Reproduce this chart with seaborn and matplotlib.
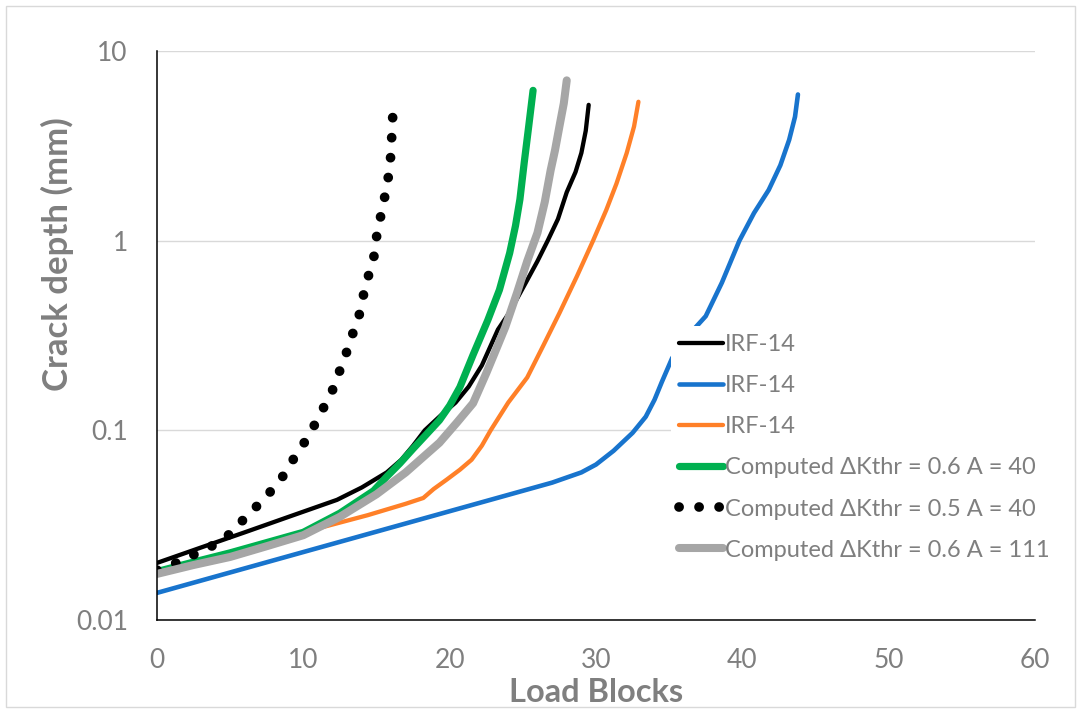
import matplotlib
matplotlib.use("Agg")
import matplotlib.pyplot as plt
from matplotlib.patches import Rectangle
from matplotlib.ticker import MultipleLocator, LogLocator, FuncFormatter, NullFormatter
import numpy as np
import pandas as pd
import seaborn as sns

# ---- measured crack growth curves (load blocks vs crack depth, mm) ----
irf_black_x = [0, 3, 6, 9, 12.3, 14, 15.7, 16.7, 17.5, 18.3, 19.4, 20.4, 21.3, 22.2,
               23.3, 24.1, 25.2, 26.0, 26.7, 27.4, 28.0, 28.6, 29.0, 29.3, 29.5]
irf_black_y = [0.020, 0.0241, 0.029, 0.035, 0.043, 0.050, 0.060, 0.070, 0.083, 0.100,
               0.120, 0.140, 0.170, 0.220, 0.340, 0.420, 0.600, 0.780, 1.00, 1.30,
               1.80, 2.30, 2.90, 3.80, 5.20]

irf_blue_x = [0, 27, 29, 30.0, 31.2, 32.5, 33.4, 34.0, 34.5, 35.2, 36.2, 37.5, 38.6,
              39.8, 40.8, 41.8, 42.6, 43.2, 43.6, 43.8]
irf_blue_y = [0.0139, 0.053, 0.060, 0.066, 0.078, 0.097, 0.118, 0.145, 0.180, 0.240,
              0.310, 0.400, 0.600, 1.00, 1.40, 1.85, 2.50, 3.40, 4.50, 5.90]

irf_orange_x = [0, 5, 10, 14.4, 17, 18.2, 18.9, 19.8, 20.7, 21.5, 22.2, 22.8, 24.0,
                25.3, 26.4, 27.5, 28.7, 29.8, 30.7, 31.4, 32.1, 32.6, 32.9]
irf_orange_y = [0.0180, 0.0228, 0.0290, 0.0357, 0.041, 0.044, 0.049, 0.055, 0.062,
                0.070, 0.083, 0.100, 0.140, 0.190, 0.280, 0.415, 0.650, 1.00, 1.45,
                2.00, 2.90, 4.00, 5.40]

# ---- computed curves ----
comp_a40_x = [0, 2.5, 5, 7.5, 10, 12.5, 14.8, 15.7, 16.6, 17.5, 18.4, 19.3, 20.0,
              20.7, 21.6, 22.6, 23.4, 24.1, 24.5, 24.8, 25.1, 25.4, 25.7]
comp_a40_y = [0.018, 0.0202, 0.0226, 0.0256, 0.029, 0.0366, 0.048, 0.057, 0.067,
              0.080, 0.095, 0.113, 0.135, 0.169, 0.250, 0.380, 0.550, 0.860, 1.20,
              1.65, 2.60, 4.00, 6.20]

comp_k05_x = [0, 1.11, 2.19, 3.0, 4.03, 4.8, 5.56, 6.17, 6.92, 7.61, 8.13, 8.87,
              9.36, 9.96, 10.5, 10.98, 11.48, 11.96, 12.32, 12.8, 13.08, 13.51,
              13.9, 14.15, 14.49, 14.85, 15.02, 15.29, 15.56, 15.8, 15.96, 16.04, 16.11]
comp_k05_y = [0.0183, 0.0197, 0.0214, 0.0232, 0.0251, 0.0277, 0.0313, 0.0361,
              0.0404, 0.046, 0.052, 0.0605, 0.0714, 0.0836, 0.0976, 0.115, 0.136,
              0.160, 0.194, 0.230, 0.284, 0.343, 0.425, 0.537, 0.670, 0.840, 1.07,
              1.35, 1.70, 2.15, 2.74, 3.53, 4.54]

comp_a111_x = [0, 2.5, 5, 7.5, 10, 12.5, 15, 17, 19.3, 20.5, 21.6, 22.5, 23.2, 23.8,
               24.6, 25.3, 26.0, 26.5, 26.9, 27.2, 27.5, 27.8, 28.0]
comp_a111_y = [0.0175, 0.0195, 0.0215, 0.0245, 0.028, 0.035, 0.046, 0.060, 0.086,
               0.110, 0.139, 0.200, 0.270, 0.350, 0.530, 0.780, 1.10, 1.60, 2.35,
               3.00, 4.00, 5.30, 7.00]

series_labels = ["IRF-14", "IRF-14", "IRF-14",
                 "Computed \u0394Kthr = 0.6 A = 40",
                 "Computed \u0394Kthr = 0.5 A = 40",
                 "Computed \u0394Kthr = 0.6 A = 111"]

x_ticks = [0, 10, 20, 30, 40, 50, 60]
y_ticks = [0.01, 0.1, 1, 10]

TEXT = "#7f7f7f"

sns.set_style("white")
plt.rcParams["font.family"] = ["Lato", "DejaVu Sans"]

fig = plt.figure(figsize=(10.81, 7.13), dpi=100)
ax = fig.add_axes([157 / 1081, 1 - 620 / 713, (1035 - 157) / 1081, (620 - 51) / 713])

styles = [
    dict(color="#000000", linewidth=3.1, solid_capstyle="round"),
    dict(color="#1874cd", linewidth=3.3, solid_capstyle="round"),
    dict(color="#ff8028", linewidth=3.1, solid_capstyle="round"),
    dict(color="#00b050", linewidth=5.2, solid_capstyle="round"),
    dict(color="#000000", linewidth=7.0, linestyle=(0, (0.01, 2.05)),
         dash_capstyle="round"),
    dict(color="#a6a6a6", linewidth=5.8, solid_capstyle="round"),
]
data = [(irf_black_x, irf_black_y), (irf_blue_x, irf_blue_y),
        (irf_orange_x, irf_orange_y), (comp_a40_x, comp_a40_y),
        (comp_k05_x, comp_k05_y), (comp_a111_x, comp_a111_y)]

for (xs, ys), lab, st in zip(data, series_labels, styles):
    df = pd.DataFrame({"blocks": xs, "depth": ys})
    sns.lineplot(data=df, x="blocks", y="depth", ax=ax, label=lab, **st)

ax.set_yscale("log")
ax.set_xlim(x_ticks[0], x_ticks[-1])
ax.set_ylim(y_ticks[0], y_ticks[-1])
ax.set_xticks(x_ticks)
ax.xaxis.set_minor_locator(MultipleLocator(2))
ax.yaxis.set_major_locator(LogLocator(base=10, numticks=10))
ax.yaxis.set_minor_locator(LogLocator(base=10, subs=np.arange(2, 10), numticks=10))
ax.yaxis.set_major_formatter(FuncFormatter(lambda v, _: f"{v:g}"))
ax.yaxis.set_minor_formatter(NullFormatter())

ax.grid(True, which="major", axis="y", color="#d9d9d9", linewidth=1.0)
ax.grid(False, axis="x")

for s in ("top", "right"):
    ax.spines[s].set_visible(False)
for s in ("left", "bottom"):
    ax.spines[s].set_color("#000000")
    ax.spines[s].set_linewidth(1.1)

ax.tick_params(axis="both", which="major", direction="in", length=6.5, width=1.0,
               color="#000000", labelcolor=TEXT, labelsize=19)
ax.tick_params(axis="both", which="minor", direction="in", length=4.5, width=1.0,
               color="#000000")
ax.tick_params(axis="y", which="major", pad=21)
ax.tick_params(axis="x", which="major", pad=20)

ax.set_xlabel("Load Blocks", fontsize=23.5, fontweight="bold", color=TEXT)
ax.set_ylabel("Crack depth (mm)", fontsize=25, fontweight="bold", color=TEXT)
ax.xaxis.label.set_va("center")
ax.yaxis.label.set_va("center")
ax.xaxis.set_label_coords(0.5, (620 - 692) / 569)
ax.yaxis.set_label_coords((57 - 157) / 878, (620 - 254) / 569)

leg = ax.legend(loc="upper left", bbox_to_anchor=(671 / 1081, 1 - 326 / 713),
                bbox_transform=fig.transFigure, fontsize=17, frameon=True,
                facecolor="white", edgecolor="none", framealpha=1.0,
                handlelength=1.85, handletextpad=0.1, labelspacing=0.85,
                borderpad=0.35, borderaxespad=0)
for t in leg.get_texts():
    t.set_color(TEXT)

fig.patches.append(Rectangle((6 / 1081, 6 / 713), 1069 / 1081, 701 / 713,
                             transform=fig.transFigure, fill=False,
                             edgecolor="#d9d9d9", linewidth=1.0))

fig.savefig("out.png", dpi=100)
